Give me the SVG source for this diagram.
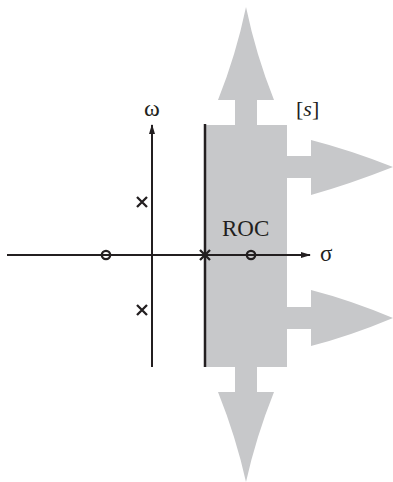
<svg xmlns="http://www.w3.org/2000/svg" width="393" height="482" viewBox="0 0 393 482">
<style>
.roc{fill:#c7c8ca;stroke:none}
.ax{stroke:#231f20;stroke-width:2;fill:none}
.mk{stroke:#231f20;stroke-width:2.3;fill:none}
.t{font-family:"Liberation Serif",serif;fill:#231f20}
</style>
<defs>
<marker id="ah" markerWidth="10" markerHeight="8" refX="9" refY="4" orient="auto" markerUnits="userSpaceOnUse">
<path d="M0,1 L10,4 L0,7 Z" fill="#231f20"/>
</marker>
</defs>
<g id="roc-region">
<path class="roc" d="M205,125 H235 V100 H218 Q236,55 246,7 Q256,55 274,100 H257 V125 H287 V156 H311 V140 Q350,150 393,167 Q350,184 311,195 V178 H287 V307 H311 V290 Q350,300 393,318 Q350,336 311,346 V329 H287 V367 H257 V392 H274 Q256,437 246,482 Q236,437 218,392 H235 V367 H205 Z"/>
</g>
<g id="connectors">
<line class="ax" x1="7" y1="255" x2="310" y2="255" marker-end="url(#ah)"/>
<line class="ax" x1="152" y1="367" x2="152" y2="125" marker-end="url(#ah)"/>
<line x1="205" y1="124" x2="205" y2="367" stroke="#231f20" stroke-width="2.5"/>
</g>
<g id="poles">
<path class="mk" d="M137,197 L147,207 M147,197 L137,207"/>
<path class="mk" d="M137,305 L147,315 M147,305 L137,315"/>
<path class="mk" d="M200,250 L210,260 M210,250 L200,260"/>
</g>
<g id="zeros">
<circle class="mk" cx="106" cy="255" r="4.2"/>
<circle class="mk" cx="251" cy="255" r="4.2"/>
</g>
<g id="labels">
<text class="t" x="152" y="116" font-size="24" text-anchor="middle">ω</text>
<text class="t" x="320" y="261" font-size="23">σ</text>
<text class="t" x="222" y="236" font-size="23">ROC</text>
<text class="t" x="296" y="116" font-size="22">[<tspan font-style="italic">s</tspan>]</text>
</g>
</svg>
